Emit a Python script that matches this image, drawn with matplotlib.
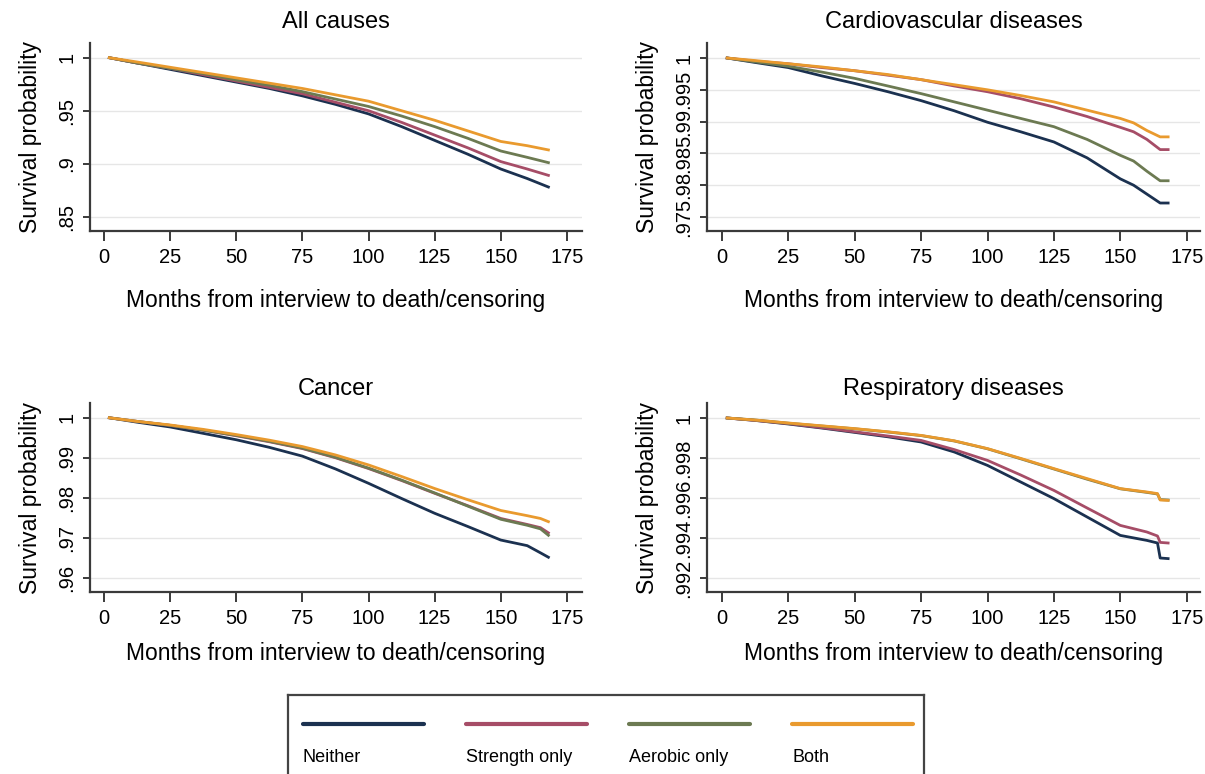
import numpy as np
import matplotlib
matplotlib.use("Agg")
import matplotlib.pyplot as plt

plt.rcParams["font.family"] = ["Liberation Sans", "DejaVu Sans"]

m_all = [2, 12.5, 25, 37.5, 50, 62.5, 75, 87.5, 100, 112.5, 125, 137.5, 150, 160, 168]
all_neither = [1.0, .995, .989, .983, .977, .971, .964, .956, .947, .935, .922, .909, .895, .886, .878]
all_strength = [1.0, .995, .990, .984, .978, .972, .966, .958, .950, .939, .927, .915, .902, .895, .889]
all_aerobic = [1.0, .995, .990, .985, .979, .974, .968, .961, .954, .945, .935, .924, .912, .906, .901]
all_both = [1.0, .996, .991, .986, .981, .976, .971, .965, .959, .950, .941, .931, .921, .917, .913]

m_cvd = [2, 12.5, 25, 37.5, 50, 62.5, 75, 87.5, 100, 112.5, 125, 137.5, 150, 155, 160, 165, 168]
cvd_neither = [1.0, .9993, .9985, .9972, .9960, .9947, .9933, .9917, .9899, .9884, .9868, .9843, .9810, .9800, .9786, .9772, .9772]
cvd_strength = [1.0, .9995, .9991, .9985, .9980, .9973, .9966, .9956, .9947, .9936, .9923, .9908, .9891, .9884, .9872, .9856, .9856]
cvd_aerobic = [1.0, .9994, .9987, .9978, .9968, .9956, .9944, .9931, .9918, .9905, .9892, .9872, .9847, .9838, .9822, .9807, .9807]
cvd_both = [1.0, .9996, .9991, .9986, .9980, .9974, .9966, .9958, .9950, .9941, .9931, .9918, .9905, .9898, .9886, .9876, .9876]

m_can = [2, 12.5, 25, 37.5, 50, 62.5, 75, 87.5, 100, 112.5, 125, 137.5, 150, 160, 165, 168]
can_neither = [1.0, .9989, .9977, .9961, .9945, .9926, .9904, .9872, .9836, .9798, .9761, .9728, .9694, .9680, .9662, .9651]
can_strength = [1.0, .9991, .9981, .9969, .9955, .9940, .9923, .9900, .9873, .9843, .9811, .9780, .9748, .9733, .9725, .9712]
can_aerobic = [1.0, .9991, .9981, .9969, .9956, .9941, .9924, .9901, .9874, .9844, .9812, .9779, .9746, .9731, .9722, .9706]
can_both = [1.0, .9991, .9982, .9971, .9958, .9944, .9928, .9907, .9882, .9853, .9823, .9795, .9768, .9755, .9748, .9740]

m_resp = [2, 12.5, 25, 37.5, 50, 62.5, 75, 87.5, 100, 112.5, 125, 137.5, 150, 160, 164, 165, 168]
resp_neither = [1.0, .99988, .99970, .99950, .99928, .99906, .99880, .99830, .99763, .99680, .99597, .99505, .99413, .99388, .99375, .99300, .99297]
resp_strength = [1.0, .99988, .99972, .99952, .99931, .99910, .99888, .99842, .99788, .99715, .99638, .99550, .99463, .99430, .99410, .99378, .99375]
resp_aerobic = [1.0, .99990, .99974, .99960, .99946, .99930, .99912, .99885, .99846, .99796, .99745, .99694, .99646, .99628, .99620, .99592, .99590]
resp_both = [1.0, .99990, .99975, .99961, .99947, .99931, .99913, .99886, .99847, .99798, .99747, .99697, .99647, .99630, .99622, .99590, .99588]

groups = ["Neither", "Strength only", "Aerobic only", "Both"]
colors = ["#1b3150", "#a64d67", "#6c7a52", "#e99a2e"]

x_ticks = [0, 25, 50, 75, 100, 125, 150, 175]
all_ticks = [.85, .9, .95, 1]
all_labels = [".85", ".9", ".95", "1"]
cvd_ticks = [.975, .98, .985, .99, .995, 1]
cvd_labels = [".975", ".98", ".985", ".99", ".995", "1"]
can_ticks = [.96, .97, .98, .99, 1]
can_labels = [".96", ".97", ".98", ".99", "1"]
resp_ticks = [.992, .994, .996, .998, 1]
resp_labels = [".992", ".994", ".996", ".998", "1"]

W, H = 1205, 774
fig = plt.figure(figsize=(W / 100, H / 100), dpi=100)
fig.patch.set_facecolor("white")

def rect(l, t, r, b):
    return [l / W, 1 - b / H, (r - l) / W, (b - t) / H]

panels = [
    ("All causes", rect(90, 43, 582, 231), (-5.3, 180.7), (.8365, 1.0139),
     m_all, [all_neither, all_strength, all_aerobic, all_both], all_ticks, all_labels, 11, 16),
    ("Cardiovascular diseases", rect(707, 43, 1200, 231), (-5.6, 180), (.9728, 1.00236),
     m_cvd, [cvd_neither, cvd_strength, cvd_aerobic, cvd_both], cvd_ticks, cvd_labels, 11, 16),
    ("Cancer", rect(90, 403, 582, 592), (-5.3, 180.7), (.9564, 1.0037),
     m_can, [can_neither, can_strength, can_aerobic, can_both], can_ticks, can_labels, 6, 10),
    ("Respiratory diseases", rect(707, 403, 1200, 592), (-5.6, 180), (.9913, 1.00075),
     m_resp, [resp_neither, resp_strength, resp_aerobic, resp_both], resp_ticks, resp_labels, 6, 10),
]

for title, r, xl, yl, months, series, yt, ylab, tpad, lpad in panels:
    ax = fig.add_axes(r)
    for vals, c in zip(series, colors):
        ax.plot(months, vals, c=c, lw=2, zorder=3)
    ax.set_xlim(*xl)
    ax.set_ylim(*yl)
    ax.set_xticks(x_ticks)
    ax.set_yticks(yt)
    ax.set_yticklabels(ylab, rotation=90, va="center")
    ax.grid(axis="y", color="#e6e6e6", lw=1, zorder=1)
    for s in ["top", "right"]:
        ax.spines[s].set_visible(False)
    for s in ["left", "bottom"]:
        ax.spines[s].set_color("#3a3a3a")
        ax.spines[s].set_linewidth(1.6)
    ax.tick_params(axis="x", length=7, width=1.4, color="#3a3a3a", pad=5, labelsize=14.5)
    ax.tick_params(axis="y", length=5, width=1.4, color="#3a3a3a", pad=5, labelsize=14.5)
    ax.set_title(title, fontsize=17, pad=tpad)
    ax.set_ylabel("Survival probability", fontsize=16.5, labelpad=11)
    ax.set_xlabel("Months from interview to death/censoring", fontsize=16.5, labelpad=lpad)

# legend box in the Stata style: key line above its label
leg = fig.add_axes(rect(288, 695, 924, 790))
leg.set_xlim(288, 924)
leg.set_ylim(790, 695)
leg.set_xticks([])
leg.set_yticks([])
for s in leg.spines.values():
    s.set_color("#444444")
    s.set_linewidth(1.6)
key_starts = [303, 466, 629, 792]
for g, c, x0 in zip(groups, colors, key_starts):
    leg.plot([x0, x0 + 121], [724, 724], c=c, lw=3, solid_capstyle="round")
    leg.text(x0, 757, g, fontsize=13, va="center", ha="left")

fig.savefig("out.png", dpi=100, facecolor="w")
